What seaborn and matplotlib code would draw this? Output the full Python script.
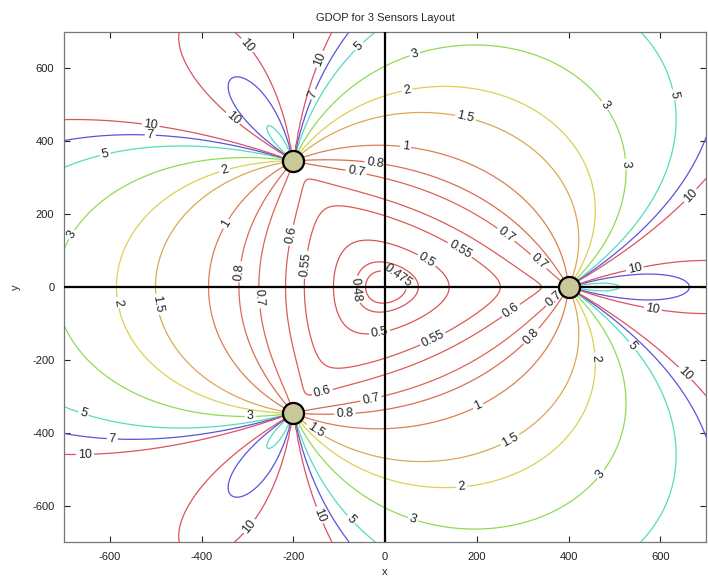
import numpy as np
import matplotlib
matplotlib.use("Agg")
import matplotlib.pyplot as plt
import seaborn as sns

# Sensor layout (3 sensors on a circle of radius 400)
sensor_x = [400.0, -200.0, -200.0]
sensor_y = [0.0, 346.41, -346.41]
# Contour levels of the GDOP map
levels = [0.475, 0.48, 0.5, 0.55, 0.6, 0.7, 0.8, 1, 1.5, 2, 3, 5, 7, 10]
x_ticks = [-600, -400, -200, 0, 200, 400, 600]
y_ticks = [-600, -400, -200, 0, 200, 400, 600]
gdop_scale = 0.4714 / 1.1547  # normalisation so that the centre value is ~0.47

# where the contour labels sit (layout only)
label_spots = [(-305, 659), (-55, 659), (-142, 625), (-153, 527), (-331, 464),
               (-512, 436), (-512, 410), (-610, 362), (-349, 316), (65, 637),
               (50, 527), (174, 458), (44, 376), (-22, 340), (-65, 302),
               (-185, 137), (-342, 170), (-682, 143), (-310, 41), (-277, -30),
               (-163, 60), (-70, -8), (87, 66), (-11, -132), (163, 102),
               (105, -145), (255, 129), (277, -69), (334, 69), (371, -36),
               (327, -145), (545, 47), (582, -71), (528, -173), (454, -195),
               (650, -242), (207, -338), (273, -420), (168, -557), (59, -645),
               (480, -524), (-76, -640), (-153, -631), (-299, -653), (-135, -296),
               (-28, -324), (-87, -360), (-153, -398), (-294, -351), (-595, -425),
               (-654, -475), (-661, -360), (-589, -44), (-508, -50), (626, 527),
               (480, 500), (665, 252), (495, 335), (12, 0)]

sns.set_style("white")
plt.rcParams["font.family"] = ["Liberation Sans", "DejaVu Sans"]
plt.rcParams["axes.unicode_minus"] = False

# Grid for the GDOP field (TDOA, symmetric covariance)
g = np.arange(-700, 705, 5.0)
X, Y = np.meshgrid(g, g)
sx = np.array(sensor_x); sy = np.array(sensor_y)
u = []
for i in range(3):
    dx = X - sx[i]; dy = Y - sy[i]
    r = np.hypot(dx, dy) + 1e-9
    u.append((dx / r, dy / r))
a = (u[1][0] - u[0][0], u[1][1] - u[0][1])
b = (u[2][0] - u[0][0], u[2][1] - u[0][1])
det = a[0] * b[1] - a[1] * b[0]
det = np.where(np.abs(det) < 1e-12, 1e-12, det)
h11 = b[1] / det; h12 = -a[1] / det; h21 = -b[0] / det; h22 = a[0] / det
R = [[2.0, 1.0], [1.0, 2.0]]
t = R[0][0] * (h11**2 + h21**2) + 2 * R[0][1] * (h11 * h12 + h21 * h22) + R[1][1] * (h12**2 + h22**2)
Z = np.sqrt(np.abs(t)) * gdop_scale

# pale hsv colours
cmap = plt.get_cmap("hsv")
lo, hi = levels[0], levels[-1]
cols = []
for lv in levels:
    c = np.array(cmap((lv - lo) / (hi - lo))[:3])
    c = (0.62 * c + 0.38) * 0.86
    cols.append(tuple(c))

fig = plt.figure(figsize=(7.08, 5.81), dpi=100)
ax = fig.add_axes([0.0904, 0.067, 0.907, 0.878])
ax.set_xlim(-700, 700)
ax.set_ylim(-700, 700)
cs = ax.contour(X, Y, Z, levels=levels, colors=cols, linewidths=0.9)
ax.clabel(cs, fmt="%g", fontsize=9, colors="#222222", inline=True, inline_spacing=2,
          manual=label_spots)

ax.axhline(0, color="black", lw=1.6, zorder=3)
ax.axvline(0, color="black", lw=1.6, zorder=3)

sns.scatterplot(x=sensor_x, y=sensor_y, ax=ax, s=230, color="#c8c898",
                edgecolor="black", linewidth=1.6, zorder=5, legend=False)

ax.set_xlim(-700, 700)
ax.set_ylim(-700, 700)
ax.set_xticks(x_ticks)
ax.set_yticks(y_ticks)
ax.tick_params(direction="in", length=4, width=0.8, labelsize=8, colors="#222222",
               top=True, right=True, bottom=True, left=True, pad=7)
for sp in ax.spines.values():
    sp.set_color("#777777")
    sp.set_linewidth(0.9)
ax.set_xlabel("x", fontsize=8, labelpad=4)
ax.set_ylabel("y", fontsize=8, labelpad=8)
ax.set_title("GDOP for 3 Sensors Layout", fontsize=8, pad=8)

fig.savefig("out.png", dpi=100)
